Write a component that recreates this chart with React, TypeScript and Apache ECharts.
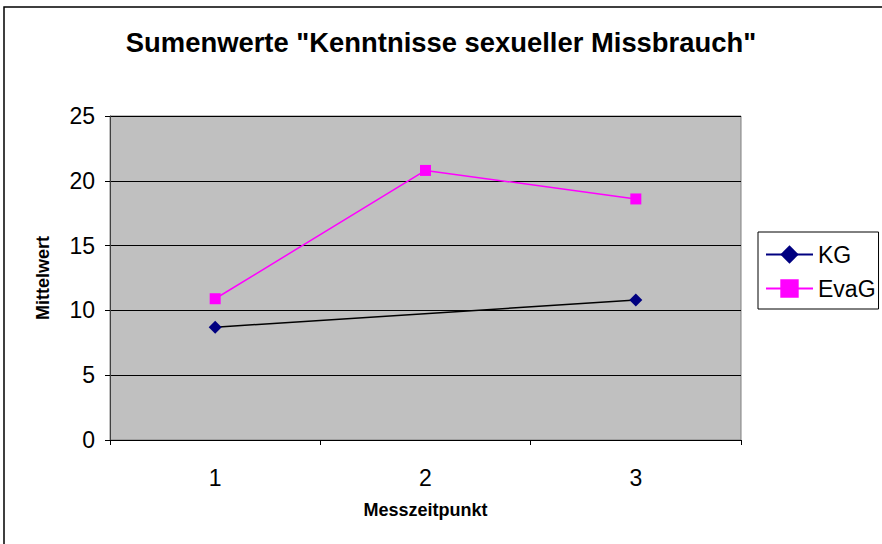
import React, { useEffect, useRef } from "react";
import * as echarts from "echarts";

const categories = ["1", "2", "3"];
const kgValues: (number | null)[] = [8.7, null, 10.8];
const evagValues: number[] = [10.9, 20.8, 18.6];
const titleText = 'Sumenwerte "Kenntnisse sexueller Missbrauch"';
const FONT = "'Liberation Sans', Arial, sans-serif";

export default function App() {
  const ref = useRef<HTMLDivElement>(null);
  useEffect(() => {
    if (!ref.current) return;
    const chart = echarts.init(ref.current, null, { renderer: "svg" });
    chart.setOption({
      animation: false,
      backgroundColor: "#ffffff",
      textStyle: { fontFamily: FONT },
      title: {
        text: titleText,
        left: "center",
        top: 29,
        padding: 0,
        textStyle: { fontSize: 27.4, fontWeight: "bold", color: "#000", fontFamily: FONT },
      },
      graphic: [
        {
          type: "rect",
          shape: { x: 4, y: 7, width: 900, height: 560 },
          style: { fill: "none", stroke: "#000", lineWidth: 1.5 },
          z: -1,
          silent: true,
        },
      ],
      legend: {
        orient: "vertical",
        left: 758,
        top: 232,
        backgroundColor: "#fff",
        borderColor: "#000",
        borderWidth: 1,
        padding: [11, 3, 9, 7],
        itemWidth: 47,
        itemHeight: 23,
        itemGap: 11,
        textStyle: { fontSize: 23, color: "#000", lineHeight: 23, fontFamily: FONT },
        data: [
          { name: "KG", lineStyle: { color: "#000080" } },
          { name: "EvaG" },
        ],
      },
      grid: {
        left: 110,
        top: 116,
        right: 141,
        bottom: 104,
        show: true,
        backgroundColor: "#C0C0C0",
        borderColor: "#808080",
        borderWidth: 1,
      },
      xAxis: {
        type: "category",
        data: categories,
        boundaryGap: true,
        name: "Messzeitpunkt",
        nameLocation: "middle",
        nameGap: 61,
        nameTextStyle: { fontSize: 18, fontWeight: "bold", color: "#000", fontFamily: FONT },
        axisLine: { lineStyle: { color: "#000", width: 1 } },
        axisTick: { show: true, length: 5, inside: false, lineStyle: { color: "#000" } },
        axisLabel: { fontSize: 23, color: "#000", margin: 26, fontFamily: FONT },
        splitLine: { show: false },
      },
      yAxis: {
        type: "value",
        min: 0,
        max: 25,
        interval: 5,
        name: "Mittelwert",
        nameLocation: "middle",
        nameGap: 58,
        nameTextStyle: { fontSize: 18, fontWeight: "bold", color: "#000", fontFamily: FONT },
        axisLine: { show: true, lineStyle: { color: "#404040", width: 1 } },
        axisTick: { show: true, length: 5, inside: false, lineStyle: { color: "#000" } },
        axisLabel: { fontSize: 23, color: "#000", margin: 15, fontFamily: FONT },
        splitLine: { show: true, lineStyle: { color: "#000", width: 1 } },
      },
      series: [
        {
          name: "KG",
          type: "line",
          data: kgValues,
          connectNulls: true,
          symbol: "diamond",
          symbolSize: 13,
          itemStyle: { color: "#000080" },
          lineStyle: { color: "#000", width: 1.5 },
        },
        {
          name: "EvaG",
          type: "line",
          data: evagValues,
          symbol: "rect",
          symbolSize: 11,
          itemStyle: { color: "#FF00FF" },
          lineStyle: { color: "#FF00FF", width: 1.5 },
        },
      ],
    });
    return () => chart.dispose();
  }, []);
  return (
    <div
      ref={ref}
      style={{ position: "absolute", left: 0, top: 0, width: 882, height: 544 }}
    />
  );
}
